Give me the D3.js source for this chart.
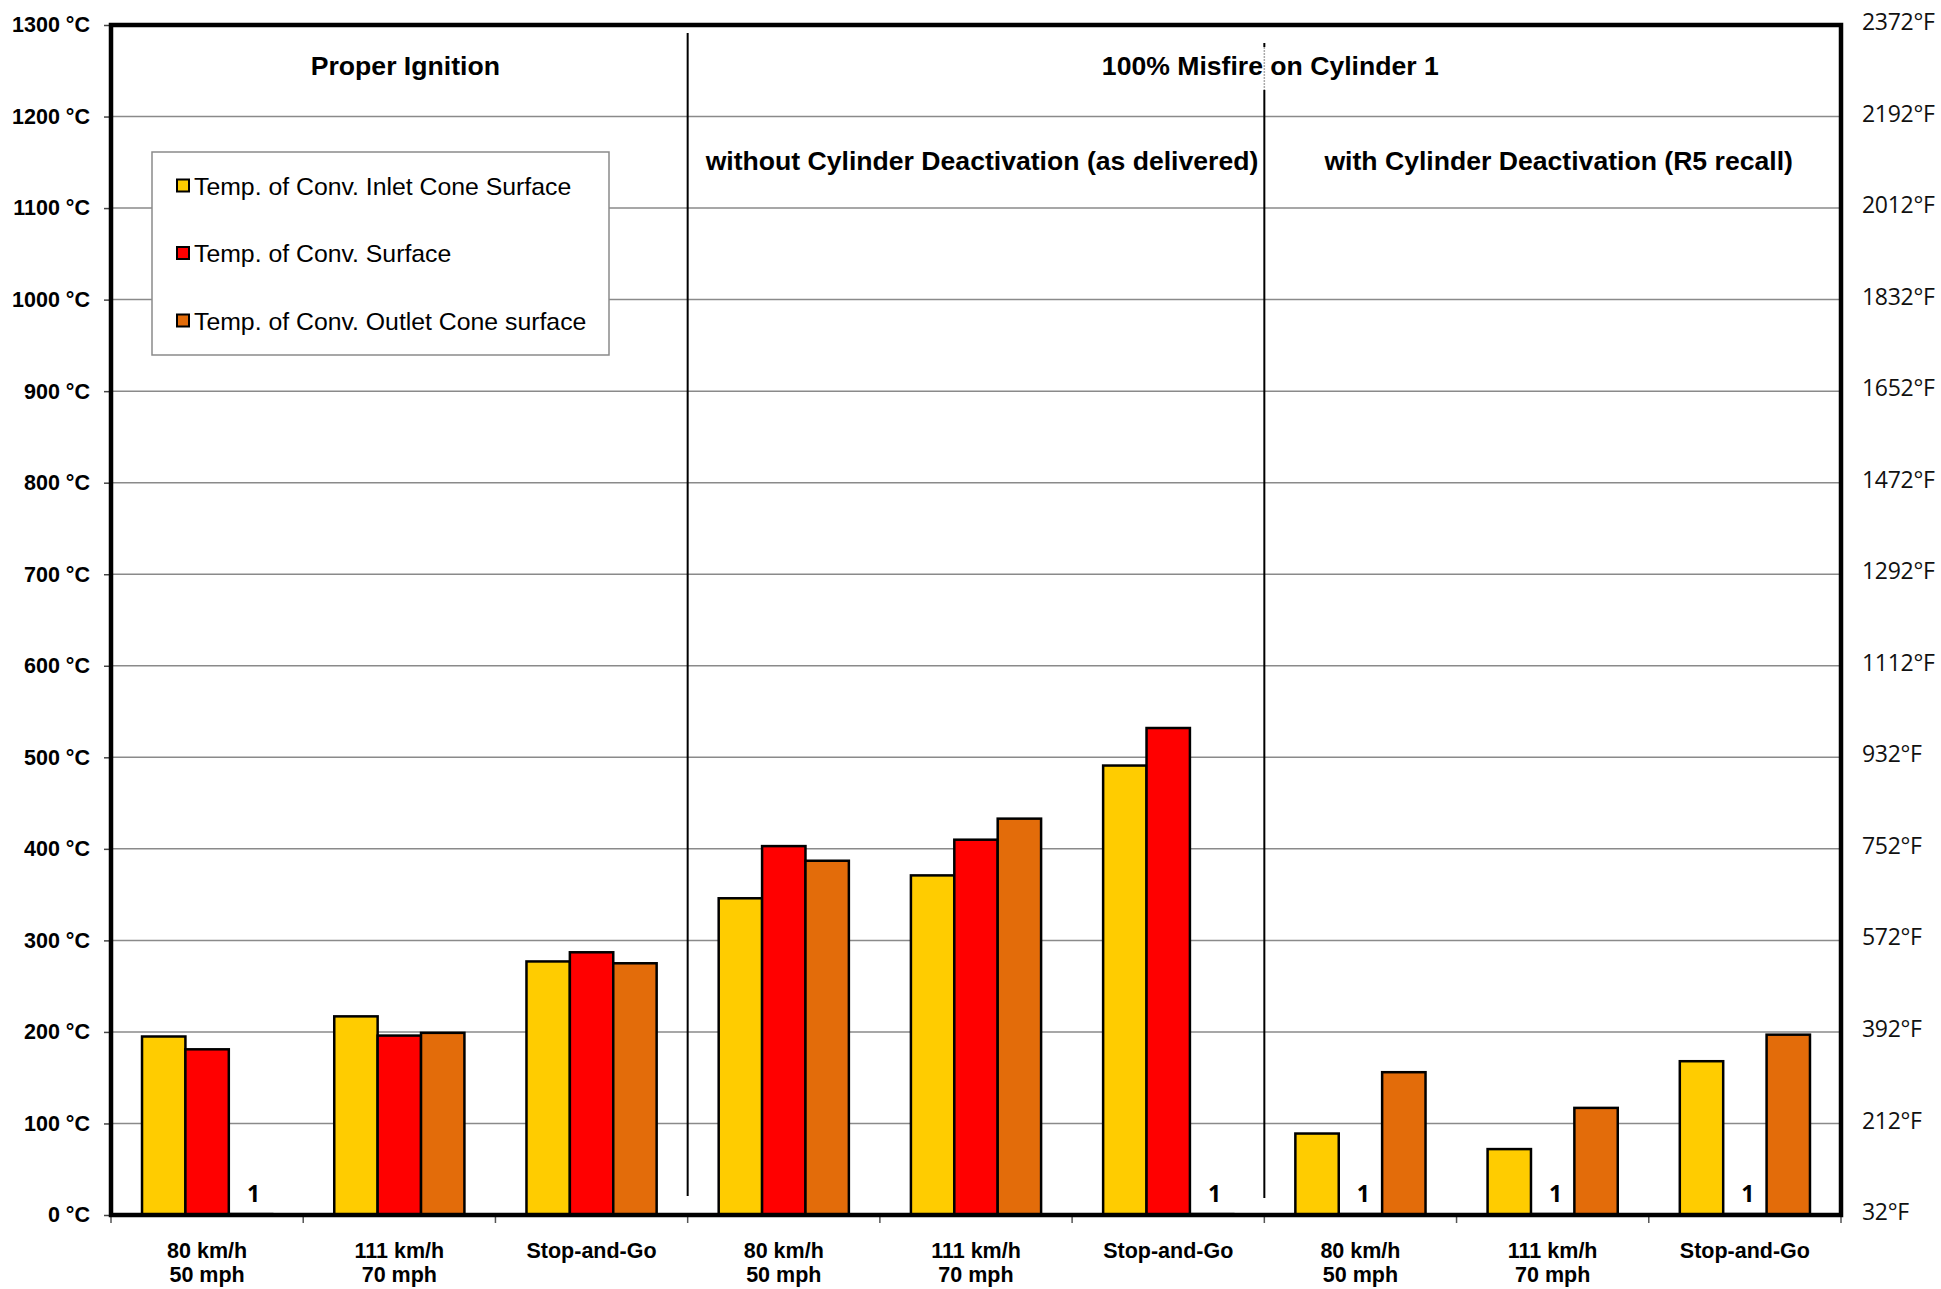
<!DOCTYPE html>
<html>
<head>
<meta charset="utf-8">
<script src="https://cdn.jsdelivr.net/npm/d3@7"></script>
<style>
  html, body { margin: 0; padding: 0; background: #ffffff; }
  svg { display: block; }
</style>
</head>
<body>
<svg id="chart" width="1941" height="1289"></svg>
<script>
// ---------------- data ----------------
const catLine1 = ["80 km/h", "111 km/h", "Stop-and-Go", "80 km/h", "111 km/h", "Stop-and-Go", "80 km/h", "111 km/h", "Stop-and-Go"];
const catLine2 = ["50 mph", "70 mph", "", "50 mph", "70 mph", "", "50 mph", "70 mph", ""];
const seriesNames = ["Temp. of Conv. Inlet Cone Surface", "Temp. of Conv. Surface", "Temp. of Conv. Outlet Cone surface"];
const inletCone  = [195, 217, 277, 346, 371, 491, 89, 72, 168];
const surface    = [181, 196, 287, 403, 410, 532, 1, 1, 1];
const outletCone = [1, 199, 275, 387, 433, 1, 156, 117, 197];
const celsiusTicks = [0, 100, 200, 300, 400, 500, 600, 700, 800, 900, 1000, 1100, 1200, 1300];
const fahrenheitTicks = [32, 212, 392, 572, 752, 932, 1112, 1292, 1472, 1652, 1832, 2012, 2192, 2372];
const sectionTitles = [
  { text: "Proper Ignition", from: 0, to: 2, row: 0 },
  { text: "100% Misfire on Cylinder 1", from: 3, to: 8, row: 0 },
  { text: "without Cylinder Deactivation (as delivered)", from: 3, to: 5, row: 1 },
  { text: "with Cylinder Deactivation (R5 recall)", from: 6, to: 8, row: 1 }
];
const colors = ["#FFCC00", "#FF0000", "#E36C0A"];

// ---------------- layout ----------------
const W = 1941, H = 1289;
const M = { left: 111, top: 25, right: 100, bottom: 74 };
const iw = W - M.left - M.right, ih = H - M.top - M.bottom;
const svg = d3.select("#chart");
const g = svg.append("g").attr("transform", `translate(${M.left},${M.top})`);

const allSeries = [inletCone, surface, outletCone];
const x0 = d3.scaleBand().domain(d3.range(catLine1.length)).range([0, iw]).padding(0);
const x1 = d3.scaleBand().domain(d3.range(seriesNames.length)).range([0, x0.bandwidth()]).paddingInner(0).paddingOuter(0.715);
const y = d3.scaleLinear().domain([0, 1300]).range([ih, 0]);

const boldFont = "'Liberation Sans', Arial, sans-serif";
const calFont = "'Open Sans', sans-serif";

// gridlines
g.append("g").selectAll("line").data(celsiusTicks.filter(d => d > 0)).join("line")
  .attr("x1", 0).attr("x2", iw)
  .attr("y1", d => y(d)).attr("y2", d => y(d))
  .attr("stroke", "#8a8a8a").attr("stroke-width", 1.5);

// left axis
const yAxis = d3.axisLeft(y).tickValues(celsiusTicks).tickSize(7).tickPadding(14).tickFormat(d => d + " °C");
const ya = g.append("g").call(yAxis);
ya.select(".domain").remove();
ya.selectAll(".tick line").attr("stroke", "#444").attr("stroke-width", 1.5);
ya.selectAll(".tick text").attr("font-family", boldFont).attr("font-weight", "bold")
  .attr("font-size", 21.5).attr("fill", "#000");

// right axis (Fahrenheit labels aligned to the Celsius gridlines)
const yF = d3.scaleLinear().domain([32, 2372]).range([ih, 0]);
const yaR = g.append("g").attr("transform", `translate(${iw},0)`)
  .call(d3.axisRight(yF).tickValues(fahrenheitTicks).tickSize(0).tickPadding(21).tickFormat(d => d + "°F"));
yaR.select(".domain").remove();
yaR.selectAll(".tick text").attr("font-family", calFont).attr("font-size", 23)
  .attr("fill", "#111").attr("dy", "0.2em").attr("letter-spacing", -0.3);

// legend
const lg = g.append("g").attr("transform", `translate(${152 - M.left},${152 - M.top})`);
lg.append("rect").attr("width", 457).attr("height", 203).attr("fill", "#fff")
  .attr("stroke", "#8a8a8a").attr("stroke-width", 1.5);
seriesNames.forEach((s, i) => {
  const row = lg.append("g").attr("transform", `translate(25,${34 + i * 67.5})`);
  row.append("rect").attr("x", 0).attr("y", -6.5).attr("width", 12).attr("height", 12)
    .attr("fill", colors[i]).attr("stroke", "#000").attr("stroke-width", 2);
  row.append("text").attr("x", 17).attr("y", 0).attr("dy", "0.35em")
    .attr("font-family", boldFont).attr("font-size", 24.8).attr("fill", "#000").text(s);
});

// separator lines
const sep1 = x0(3), sep2 = x0(6);
g.append("line").attr("x1", sep1).attr("x2", sep1).attr("y1", 33 - M.top).attr("y2", 1196 - M.top)
  .attr("stroke", "#000").attr("stroke-width", 2);
g.append("line").attr("x1", sep2).attr("x2", sep2).attr("y1", 90 - M.top).attr("y2", 1198 - M.top)
  .attr("stroke", "#000").attr("stroke-width", 2);
g.append("line").attr("x1", sep2).attr("x2", sep2).attr("y1", 43 - M.top).attr("y2", 47 - M.top)
  .attr("stroke", "#000").attr("stroke-width", 2);
g.append("line").attr("x1", sep2).attr("x2", sep2).attr("y1", 47 - M.top).attr("y2", 90 - M.top)
  .attr("stroke", "#aaa").attr("stroke-width", 1.5).attr("stroke-dasharray", "2,1");

// section titles
sectionTitles.forEach(t => {
  const cx = (x0(t.from) + x0(t.to) + x0.bandwidth()) / 2 + 6;
  g.append("text").attr("x", cx).attr("y", t.row === 0 ? 66 - M.top : 161 - M.top).attr("dy", "0.35em")
    .attr("text-anchor", "middle").attr("font-family", boldFont).attr("font-weight", "bold")
    .attr("font-size", 26.6).attr("fill", "#000").text(t.text);
});

// bars
const groups = g.append("g").selectAll("g").data(catLine1.map((c, i) => i)).join("g")
  .attr("transform", i => `translate(${x0(i)},0)`);
groups.selectAll("rect").data(i => allSeries.map((s, k) => ({ k, v: s[i] }))).join("rect")
  .attr("x", d => x1(d.k)).attr("width", x1.bandwidth())
  .attr("y", d => y(d.v)).attr("height", d => ih - y(d.v))
  .attr("fill", d => colors[d.k]).attr("stroke", "#000").attr("stroke-width", 2.5);
// data labels for near-zero bars
groups.selectAll("text.lbl").data(i => allSeries.map((s, k) => ({ k, v: s[i] })).filter(d => d.v === 1)).join("text")
  .attr("class", "lbl")
  .attr("x", d => x1(d.k) + x1.bandwidth() / 2 + 3).attr("y", y(0) - 21).attr("dy", "0.35em")
  .attr("text-anchor", "middle").attr("font-family", calFont).attr("font-weight", "bold")
  .attr("font-size", 23).attr("fill", "#000").text(d => d.v);

// x axis ticks & labels
const xt = g.append("g").attr("transform", `translate(0,${ih})`);
xt.selectAll("line").data(d3.range(catLine1.length + 1)).join("line")
  .attr("x1", i => i * x0.step()).attr("x2", i => i * x0.step())
  .attr("y1", 0).attr("y2", 8).attr("stroke", "#555").attr("stroke-width", 1.5);
const xl = xt.selectAll("text").data(d3.range(catLine1.length)).join("text")
  .attr("text-anchor", "middle").attr("font-family", boldFont).attr("font-weight", "bold")
  .attr("font-size", 21.5).attr("fill", "#000");
xl.append("tspan").attr("x", i => x0(i) + x0.bandwidth() / 2).attr("y", 43).text(i => catLine1[i]);
xl.append("tspan").attr("x", i => x0(i) + x0.bandwidth() / 2).attr("y", 67).text(i => catLine2[i]);

// frame
g.append("rect").attr("x", 0).attr("y", 0).attr("width", iw).attr("height", ih)
  .attr("fill", "none").attr("stroke", "#000").attr("stroke-width", 4.5);
</script>
</body>
</html>
